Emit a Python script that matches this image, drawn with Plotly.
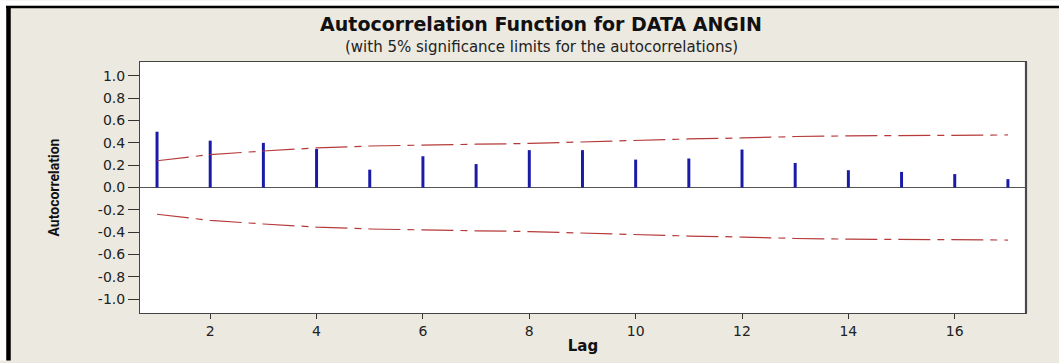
import plotly.graph_objects as go

# Sample autocorrelations of the wind series, lags 1..17
lags = list(range(1, 18))
acf = [0.50, 0.42, 0.40, 0.345, 0.16, 0.28, 0.21, 0.335, 0.335,
       0.25, 0.26, 0.34, 0.22, 0.155, 0.14, 0.12, 0.075]

# 5% significance limits at each lag
upper_limit = [0.240, 0.295, 0.327, 0.355, 0.372, 0.377, 0.388, 0.395, 0.410,
               0.425, 0.435, 0.444, 0.457, 0.463, 0.466, 0.469, 0.471]
lower_limit = [-0.240, -0.295, -0.327, -0.355, -0.372, -0.377, -0.388, -0.395, -0.410,
               -0.425, -0.435, -0.444, -0.457, -0.463, -0.466, -0.469, -0.471]

y_ticks = [1.0, 0.8, 0.6, 0.4, 0.2, 0.0, -0.2, -0.4, -0.6, -0.8, -1.0]
y_tick_labels = ["1.0", "0.8", "0.6", "0.4", "0.2", "0.0",
                 "-0.2", "-0.4", "-0.6", "-0.8", "-1.0"]
x_ticks = [2, 4, 6, 8, 10, 12, 14, 16]

W, H = 1059, 363
L, R, T, B = 140, 33, 62, 48


def px_x(px):
    return (px - L) / (W - L - R)


def px_y(py):
    return (H - B - py) / (H - T - B)


FONT = "DejaVu Sans"
BG = "#ECE9E0"

fig = go.Figure()

fig.add_bar(
    x=lags, y=acf, width=0.056,
    marker=dict(color="#1a1aa8", line=dict(width=0)),
    hoverinfo="x+y",
)

limit_line = dict(color="#b53a3a", width=1.2, dash="32px,7px,7px,7px")
fig.add_scatter(x=lags, y=upper_limit, mode="lines", line=limit_line, hoverinfo="x+y")
fig.add_scatter(x=lags, y=lower_limit, mode="lines", line=limit_line, hoverinfo="x+y")

# window frame: white margin strips plus heavy black edges on the top and left
frame_shapes = [
    dict(type="rect", xref="paper", yref="paper",
         x0=px_x(0), x1=px_x(W), y0=px_y(5), y1=px_y(0),
         fillcolor="white", line=dict(width=0), layer="below"),
    dict(type="rect", xref="paper", yref="paper",
         x0=px_x(0), x1=px_x(6), y0=px_y(H), y1=px_y(0),
         fillcolor="white", line=dict(width=0), layer="below"),
    dict(type="line", xref="paper", yref="paper",
         x0=px_x(6), x1=px_x(W), y0=px_y(6.5), y1=px_y(6.5),
         line=dict(color="black", width=2.5)),
    dict(type="line", xref="paper", yref="paper",
         x0=px_x(8.5), x1=px_x(8.5), y0=px_y(H), y1=px_y(5.5),
         line=dict(color="black", width=4.5)),
    # slightly heavier right edge of the data region
    dict(type="line", xref="paper", yref="paper",
         x0=1, x1=1, y0=0, y1=1,
         line=dict(color="#4a4a4a", width=2.2)),
]

subtitle = dict(
    text="(with 5% significance limits for the autocorrelations)",
    xref="paper", yref="paper",
    x=px_x(541), y=px_y(47), xanchor="center", yanchor="middle",
    showarrow=False,
    font=dict(family=FONT, size=15, color="#222222"),
)

fig.update_layout(
    width=W, height=H,
    margin=dict(l=L, r=R, t=T, b=B, pad=0),
    paper_bgcolor=BG,
    plot_bgcolor="white",
    showlegend=False,
    shapes=frame_shapes,
    annotations=[subtitle],
    font=dict(family=FONT, color="#222222"),
    title=dict(
        text="<b>Autocorrelation Function for DATA ANGIN</b>",
        font=dict(family=FONT, size=19, color="#111111"),
        x=541 / W, xanchor="center", xref="container",
        y=1 - 24 / H, yanchor="middle", yref="container",
    ),
    xaxis=dict(
        range=[0.68, 17.34],
        tickvals=x_ticks,
        ticks="outside", ticklen=5, tickwidth=1, tickcolor="#333333",
        showline=True, mirror=True, linecolor="#444444", linewidth=1,
        showgrid=False, zeroline=False,
        tickfont=dict(family=FONT, size=14, color="#222222"),
        title=dict(text="<b>Lag</b>", font=dict(family=FONT, size=15, color="#111111"),
                   standoff=2),
    ),
    yaxis=dict(
        range=[-1.125, 1.125],
        tickvals=y_ticks, ticktext=y_tick_labels,
        ticks="outside", ticklen=11, tickwidth=1, tickcolor="#333333",
        showline=True, mirror=True, linecolor="#444444", linewidth=1,
        showgrid=False,
        zeroline=True, zerolinecolor="#555555", zerolinewidth=1,
        tickfont=dict(family=FONT, size=14, color="#222222"),
        title=dict(text="<b>Autocorrelation</b>",
                   font=dict(family="Roboto", size=14, color="#111111"),
                   standoff=34),
    ),
)

fig.write_html("out.html")
